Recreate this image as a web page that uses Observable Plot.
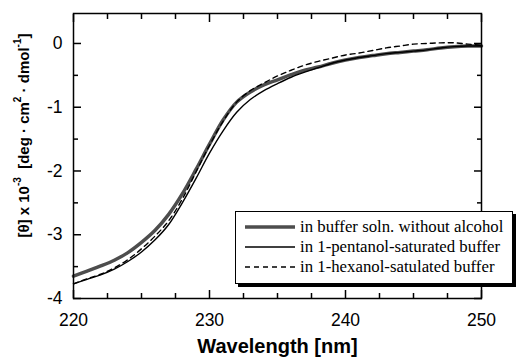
<!DOCTYPE html>
<html>
<head>
<meta charset="utf-8">
<script src="https://cdn.jsdelivr.net/npm/d3@7"></script>
<script src="https://cdn.jsdelivr.net/npm/@observablehq/plot@0.6"></script>
<style>
  html, body { margin: 0; padding: 0; background: #fff; }
  #chart { position: relative; width: 518px; height: 359px; }
  #legend {
    position: absolute; left: 235px; top: 211px; width: 278px; height: 73px;
    border: 1.5px solid #000; background: #fff; box-shadow: 3px 3px 0 #000;
    font-family: "Liberation Serif", serif; font-size: 16.8px; color: #000;
    box-sizing: border-box; padding-top: 5px;
  }
  #legend .row { display: flex; align-items: center; height: 20px; white-space: nowrap; }
  #legend svg { margin-left: 9px; margin-right: 5px; }
</style>
</head>
<body>
<div id="chart"></div>
<script>
// Wavelength grid (nm)
const wavelength = [220, 221, 222, 223, 224, 225, 226, 227, 228, 229, 230, 231, 232, 233, 234, 235,
  236, 237, 238, 239, 240, 241, 242, 243, 244, 245, 246, 247, 248, 249, 250];

// Mean residue ellipticity [θ] x 10^-3 for each solvent condition
const bufferOnly = [-3.65, -3.57, -3.49, -3.40, -3.28, -3.12, -2.93, -2.68, -2.36, -1.98, -1.58,
  -1.20, -0.92, -0.76, -0.65, -0.57, -0.49, -0.42, -0.37, -0.31, -0.26, -0.22, -0.19, -0.16,
  -0.14, -0.12, -0.10, -0.07, -0.05, -0.04, -0.04];
const pentanol = [-3.77, -3.70, -3.63, -3.54, -3.42, -3.27, -3.08, -2.84, -2.50, -2.12, -1.72,
  -1.37, -1.08, -0.88, -0.74, -0.63, -0.53, -0.45, -0.38, -0.31, -0.26, -0.22, -0.19, -0.16,
  -0.14, -0.12, -0.10, -0.07, -0.05, -0.04, -0.04];
const hexanol = [-3.77, -3.69, -3.62, -3.52, -3.39, -3.22, -3.02, -2.78, -2.44, -2.02, -1.60,
  -1.22, -0.92, -0.74, -0.62, -0.51, -0.42, -0.34, -0.28, -0.23, -0.18, -0.15, -0.11, -0.07,
  -0.04, -0.01, 0.00, 0.01, 0.01, -0.01, -0.03];

const seriesNames = ["in buffer soln. without alcohol", "in 1-pentanol-saturated buffer", "in 1-hexanol-satulated buffer"];

// Axis ticks
const xMajor = [220, 230, 240, 250];
const xMinor = [222.5, 225, 227.5, 232.5, 235, 237.5, 242.5, 245, 247.5];
const yMajor = [-4, -3, -2, -1, 0];
const yMinor = [-3.5, -2.5, -1.5, -0.5];

const xLabel = "Wavelength [nm]";
// y label pieces: [text, superscript?]
const yLabelParts = [["[θ] x 10", false], ["-3", true], ["  [deg · cm", false], ["2", true], [" · dmol", false], ["-1", true], ["]", false]];

const toRows = (vals) => wavelength.map((w, i) => ({nm: w, v: vals[i]}));

const styles = [
  {stroke: "#4d4d4d", strokeWidth: 3.5, dash: null},
  {stroke: "#000", strokeWidth: 1.4, dash: null},
  {stroke: "#000", strokeWidth: 1.4, dash: "5,4"}
];
const seriesValues = [bufferOnly, pentanol, hexanol];

// Tick marks pointing into the frame: outward ticks shifted inward by their own length
const inwardTicks = (side, vals, len) => {
  const common = {anchor: side, ticks: vals, tickSize: len, tickFormat: () => "", label: null, strokeWidth: 1.5, stroke: "#000"};
  if (side === "bottom") return Plot.axisX({...common, dy: -len});
  if (side === "top") return Plot.axisX({...common, dy: len});
  if (side === "left") return Plot.axisY({...common, dx: len});
  return Plot.axisY({...common, dx: -len});
};

const chart = Plot.plot({
  width: 518,
  height: 359,
  marginLeft: 73,
  marginRight: 37,
  marginTop: 13,
  marginBottom: 61,
  x: {domain: [220, 250]},
  y: {domain: [-4, 0.47]},
  style: {fontFamily: "Liberation Sans, sans-serif", fontSize: "17.5px", color: "#000", background: "#fff"},
  marks: [
    ...seriesValues.map((vals, i) => Plot.line(toRows(vals), {
      x: "nm", y: "v", stroke: styles[i].stroke, strokeWidth: styles[i].strokeWidth,
      strokeDasharray: styles[i].dash, curve: "catmull-rom"
    })),
    Plot.frame({strokeWidth: 1.5}),
    ...["bottom", "top"].flatMap(s => [inwardTicks(s, xMajor, 8), inwardTicks(s, xMinor, 5)]),
    ...["left", "right"].flatMap(s => [inwardTicks(s, yMajor, 8), inwardTicks(s, yMinor, 5)]),
    Plot.axisX({anchor: "bottom", ticks: xMajor, tickSize: 0, tickPadding: 15, label: null, tickFormat: d => String(d)}),
    Plot.axisY({anchor: "left", ticks: yMajor, tickSize: 0, tickPadding: 11, label: null, tickFormat: d => String(d)}),
    Plot.text([xLabel], {text: d => d, frameAnchor: "bottom", dy: 54, fontWeight: "bold", fontSize: 20})
  ]
});

// Rotated y-axis title with superscripts
const sy = chart.scale("y");
const sx = chart.scale("x");
const yMid = (sy.range[0] + sy.range[1]) / 2 - 20;
const yTitle = d3.select(chart).append("text")
  .attr("transform", `translate(${sx.range[0] - 50},${yMid}) rotate(-90)`)
  .attr("text-anchor", "middle")
  .attr("dominant-baseline", "central")
  .attr("font-family", "Liberation Sans, sans-serif")
  .attr("font-weight", "bold")
  .attr("font-size", 15)
  .attr("fill", "#000");
yLabelParts.forEach(([t, sup]) => {
  const ts = yTitle.append("tspan").text(t).attr("xml:space", "preserve");
  if (sup) ts.attr("font-size", 10).attr("baseline-shift", "super");
});

const root = document.getElementById("chart");
root.appendChild(chart);

// Legend box with line samples
const legend = document.createElement("div");
legend.id = "legend";
seriesNames.forEach((name, i) => {
  const row = document.createElement("div");
  row.className = "row";
  const s = styles[i];
  row.innerHTML = `<svg width="50" height="8"><line x1="0" x2="50" y1="4" y2="4" stroke="${s.stroke}" stroke-width="${s.strokeWidth}" ${s.dash ? `stroke-dasharray="${s.dash}"` : ""}/></svg><span>${name}</span>`;
  legend.appendChild(row);
});
root.appendChild(legend);
</script>
</body>
</html>
